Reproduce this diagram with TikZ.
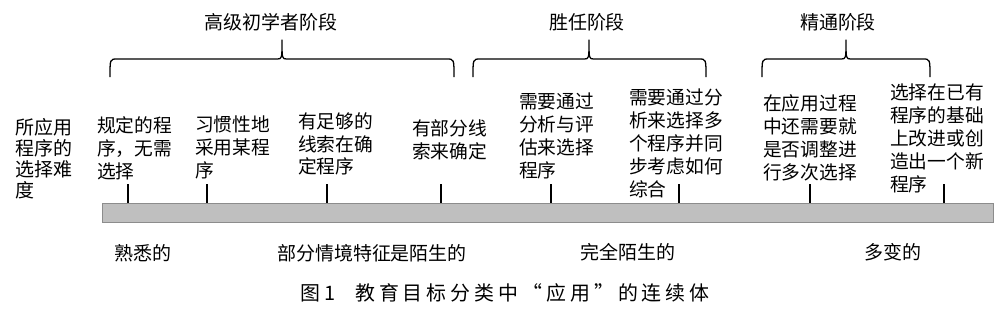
\documentclass[tikz,border=0pt]{standalone}
\usepackage{fontspec}
\setmainfont{Noto Sans CJK SC}
\newfontfamily\capfont[LetterSpace=20]{Noto Sans CJK SC}

% curly bracket over one stage: left end, tip, right end
\newcommand{\stagebrace}[3]{%
  \draw[brace] (#1,77) .. controls (#1,59) .. (#1+7,59) -- (#2-5,59)
    .. controls (#2,59) .. (#2,40) .. controls (#2,59) .. (#2+5,59)
    -- (#3-7,59) .. controls (#3,59) .. (#3,77);}

\begin{document}
\begin{tikzpicture}[x=0.03cm, y=-0.03cm,
  brace/.style={line width=1.1pt, line join=round},
  stage/.style={font=\fontsize{16.2pt}{19pt}\selectfont},
  desc/.style={anchor=north west, align=left, inner sep=0pt,
    font=\fontsize{16pt}{19.6pt}\selectfont},
  tickline/.style={line width=1.2pt},
  lbl/.style={font=\fontsize{16.2pt}{19pt}\selectfont}]
\useasboundingbox (0,0) rectangle (1000,330);

% stages
\node[stage] (s1) at (271,22) {高级初学者阶段};
\node[stage] (s2) at (587,22) {胜任阶段};
\node[stage] (s3) at (838,22) {精通阶段};
\stagebrace{110}{282}{454}
\stagebrace{473}{589}{706}
\stagebrace{762}{846}{930}

% axis
\node[desc, font=\fontsize{16.2pt}{17.9pt}\selectfont] (axis) at (15,118)
  {所应用\\程序的\\选择难\\度};
\node[draw=black!45, fill=black!25, line width=0.8pt, inner sep=0pt,
  minimum width=26.73cm, minimum height=0.57cm, anchor=north west]
  (bar) at (102,203) {};

% descriptions
\node[desc] (d1) at (97,116) {规定的程\\序，无需\\选择};
\node[desc] (d2) at (195,116) {习惯性地\\采用某程\\序};
\node[desc] (d3) at (298,112) {有足够的\\线索在确\\定程序};
\node[desc] (d4) at (412,119) {有部分线\\索来确定};
\node[desc] (d5) at (519,93) {需要通过\\分析与评\\估来选择\\程序};
\node[desc] (d6) at (629,89) {需要通过分\\析来选择多\\个程序并同\\步考虑如何\\综合};
\node[desc] (d7) at (763,94) {在应用过程\\中还需要就\\是否调整进\\行多次选择};
\node[desc] (d8) at (890,84) {选择在已有\\程序的基础\\上改进或创\\造出一个新\\程序};

\foreach \x [count=\i] in {128,207,327,441,551,679,810,944}{
  \coordinate (t\i) at (\x,184);
  \draw[tickline] (t\i) -- (t\i |- bar.north);
}

% situations
\node[lbl] (c1) at (143,253) {熟悉的};
\node[lbl] (c2) at (372,253) {部分情境特征是陌生的};
\node[lbl] (c3) at (628,252) {完全陌生的};
\node[lbl] (c4) at (893,252) {多变的};

\node[font=\capfont\fontsize{17pt}{20pt}\selectfont] (cap) at (505,293)
  {图1\quad 教育目标分类中“应用”的连续体};
\end{tikzpicture}
\end{document}
